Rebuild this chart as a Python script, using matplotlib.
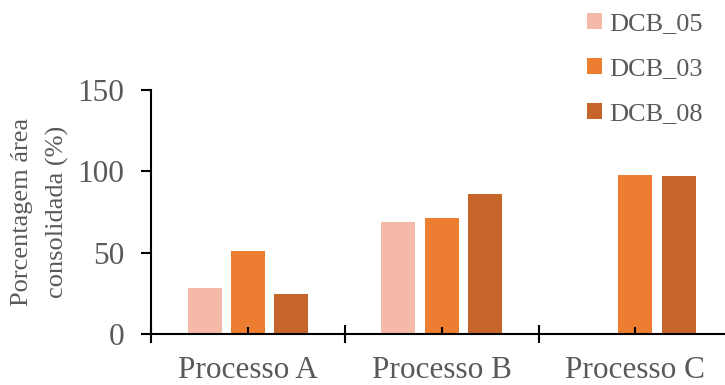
import numpy as np
import matplotlib.pyplot as plt
from matplotlib.ticker import FixedLocator

groups = ["Processo A", "Processo B", "Processo C"]
series = ["DCB_05", "DCB_03", "DCB_08"]
dcb_05 = [28.5, 69.0, np.nan]
dcb_03 = [51.2, 71.3, 97.8]
dcb_08 = [24.8, 86.1, 97.3]
colors = ["#F4B9A7", "#ED7D31", "#C5652A"]

plt.rcParams['font.family'] = ['Liberation Serif', 'DejaVu Serif']
gray = "#595959"

fig = plt.figure(figsize=(7.25, 3.85), dpi=100)
ax = fig.add_axes([151 / 725, 1 - 334 / 385, 1 - 151 / 725 + 0.01, 244 / 385])

x = np.arange(len(groups))
w = 0.176
step = 0.223
for i, (vals, name) in enumerate(zip([dcb_05, dcb_03, dcb_08], series)):
    ax.bar(x + (i - 1) * step, vals, w, color=colors[i], label=name)

ax.set_xlim(-0.5, 2.5)
ax.set_ylim(0, 150)
ax.set_yticks([0, 50, 100, 150])

ax.xaxis.set_major_locator(FixedLocator([-0.5, 0.5, 1.5, 2.5]))
ax.xaxis.set_minor_locator(FixedLocator(x))
ax.set_xticklabels([])
ax.set_xticklabels(groups, minor=True)
ax.tick_params(axis='x', which='major', direction='inout', length=13, width=1.5)
ax.tick_params(axis='x', which='minor', direction='in', length=5, width=1.5,
               labelsize=22.5, labelcolor=gray, pad=16)
ax.tick_params(axis='y', direction='out', length=7, width=1.5,
               labelsize=22.5, labelcolor=gray, pad=12)

for s in ['top', 'right']:
    ax.spines[s].set_visible(False)
for s in ['left', 'bottom']:
    ax.spines[s].set_linewidth(1.5)

fig.text(40 / 725, 1 - 212 / 385, "Porcentagem área\nconsolidada (%)", rotation=90,
         ha='center', va='center', fontsize=19, color=gray, linespacing=1.75)

leg = fig.legend(loc='upper right', bbox_to_anchor=(0.988, 1.0), frameon=False,
                 fontsize=19, labelcolor=gray, handlelength=0.55, handleheight=0.55,
                 handletextpad=0.3, labelspacing=0.85, borderaxespad=0.1)

fig.savefig("out.png", dpi=100)
